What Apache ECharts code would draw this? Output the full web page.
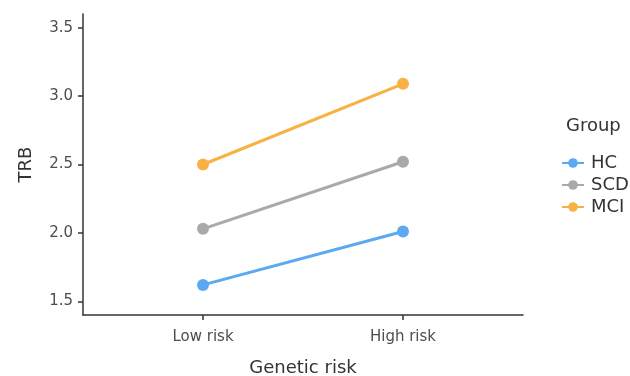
<!DOCTYPE html>
<html>
<head>
<meta charset="utf-8">
<script src="https://cdn.jsdelivr.net/npm/echarts@6/dist/echarts.min.js"></script>
<style>
  html, body { margin: 0; padding: 0; background: #fff; }
  #chart { width: 630px; height: 376px; }
</style>
</head>
<body>
<div id="chart"></div>
<script>
// Genetic risk groups on the x axis (placed at positions 1 and 2)
const categories = ['Low risk', 'High risk'];
const groups = ['HC', 'SCD', 'MCI'];
const hcValues = [1.62, 2.01];
const scdValues = [2.03, 2.52];
const mciValues = [2.50, 3.09];
const yTicks = [1.5, 2.0, 2.5, 3.0, 3.5];

const colors = { HC: '#5AA9F2', SCD: '#A9A9A9', MCI: '#F8B142' };
const valuesByGroup = { HC: hcValues, SCD: scdValues, MCI: mciValues };

const font = '"DejaVu Sans", "Liberation Sans", Arial, sans-serif';

const series = groups.map(g => ({
  name: g,
  type: 'line',
  data: valuesByGroup[g].map((v, i) => [i + 1, v]),
  symbol: 'circle',
  symbolSize: 12,
  lineStyle: { width: 3, color: colors[g] },
  itemStyle: { color: colors[g] },
  emphasis: { disabled: true },
  animation: false
}));

const chart = echarts.init(document.getElementById('chart'), null, { renderer: 'canvas' });
chart.setOption({
  backgroundColor: '#fff',
  animation: false,
  grid: { left: 83, right: 107, top: 14, bottom: 61, containLabel: false, outerBoundsMode: 'none' },
  xAxis: {
    type: 'value',
    min: 0.4,
    max: 2.6,
    splitLine: { show: false },
    axisLine: { lineStyle: { color: '#333', width: 1.5 } },
    axisTick: { show: true, customValues: [1, 2], length: 5, lineStyle: { color: '#333', width: 1.5 } },
    axisLabel: {
      customValues: [1, 2],
      formatter: v => categories[Math.round(v) - 1] || '',
      color: '#4d4d4d', fontSize: 15, fontFamily: font, margin: 15
    },
    name: 'Genetic risk',
    nameLocation: 'middle',
    nameGap: 44,
    nameTextStyle: { color: '#333', fontSize: 18, fontFamily: font }
  },
  yAxis: {
    type: 'value',
    min: 1.4,
    max: 3.6,
    splitLine: { show: false },
    axisLine: { show: true, lineStyle: { color: '#333', width: 1.5 } },
    axisTick: { show: true, customValues: yTicks, length: 5, lineStyle: { color: '#333', width: 1.5 } },
    axisLabel: {
      customValues: yTicks,
      formatter: v => v.toFixed(1),
      color: '#4d4d4d', fontSize: 15, fontFamily: font, margin: 10
    },
    name: 'TRB',
    nameLocation: 'middle',
    nameGap: 48,
    nameTextStyle: { color: '#333', fontSize: 18, fontFamily: font }
  },
  legend: {
    data: groups,
    orient: 'vertical',
    left: 556,
    top: 149,
    itemWidth: 22,
    itemHeight: 12,
    itemGap: 4,
    textStyle: { color: '#333', fontSize: 18, fontFamily: font, padding: [0, 0, 0, 2] },
    selectedMode: false
  },
  graphic: [{
    type: 'text',
    left: 566,
    top: 117,
    style: { text: 'Group', fill: '#333', fontSize: 18, fontFamily: font }
  }],
  series: series
});
</script>
</body>
</html>
